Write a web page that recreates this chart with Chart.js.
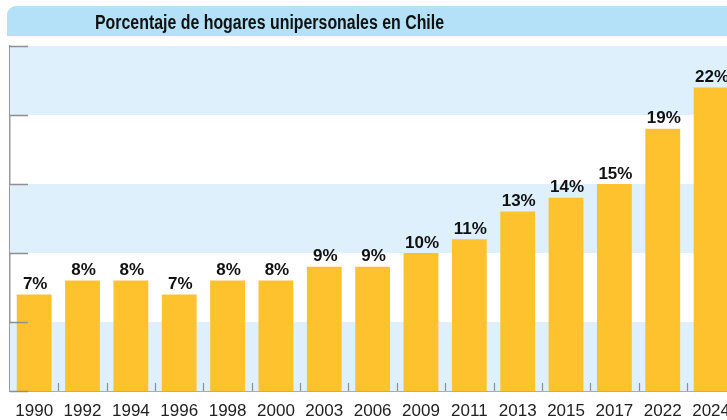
<!DOCTYPE html>
<html><head><meta charset="utf-8">
<script src="https://cdn.jsdelivr.net/npm/chart.js@4.4.1/dist/chart.umd.min.js"></script>
<style>
html,body{margin:0;padding:0;background:#fff;overflow:hidden;width:727px;height:420px;}
#wrap{position:absolute;left:0;top:0;width:740px;height:420px;}
#titlebar{position:absolute;left:7px;top:6px;width:760px;height:30px;background:#b4e1f7;border-radius:9px 0 0 0;z-index:2;}
#title{position:absolute;left:88px;top:1px;height:30px;line-height:30px;font-family:"Liberation Sans",Arial,sans-serif;font-weight:bold;font-size:20px;color:#111;white-space:nowrap;transform:scaleX(0.795);transform-origin:0 50%;}
</style></head>
<body>
<div id="titlebar"><div id="title">Porcentaje de hogares unipersonales en Chile</div></div>
<div id="wrap"><canvas id="c" width="740" height="420"></canvas></div>
<script>
const categories = ['1990','1992','1994','1996','1998','2000','2003','2006','2009','2011','2013','2015','2017','2022','2024'];
const values = [7,8,8,7,8,8,9,9,10,11,13,14,15,19,22];
const yTickValues = [0,5,10,15,20,25];

const bandColor = '#ddf0fb';
const barColor = '#fec22f';

const decor = {
  id:'decor',
  beforeDatasetsDraw(chart){
    const {ctx, chartArea:a, scales:{y}} = chart;
    ctx.save();
    for(let i=0;i<yTickValues.length-1;i++){
      if(i%2===0){
        const y1 = y.getPixelForValue(yTickValues[i]);
        const y2 = y.getPixelForValue(yTickValues[i+1]);
        ctx.fillStyle = bandColor;
        ctx.fillRect(a.left, y2, chart.width - a.left, y1 - y2);
      }
    }
    ctx.restore();
  },
  afterDraw(chart){
    const {ctx, chartArea:a, scales:{x,y}} = chart;
    ctx.save();
    ctx.strokeStyle = '#8f8f8f';
    ctx.lineWidth = 1.5;
    yTickValues.forEach(v=>{
      const py = Math.round(y.getPixelForValue(v))+0.5;
      ctx.beginPath(); ctx.moveTo(a.left, py); ctx.lineTo(a.left+18, py); ctx.stroke();
    });
    ctx.strokeStyle = '#8f8f8f';
    ctx.lineWidth = 1.2;
    for(let i=0;i<categories.length-1;i++){
      const px = Math.round((x.getPixelForValue(i)+x.getPixelForValue(i+1))/2)+0.5;
      ctx.beginPath(); ctx.moveTo(px, a.bottom); ctx.lineTo(px, a.bottom-8); ctx.stroke();
    }
    const meta = chart.getDatasetMeta(0);
    ctx.fillStyle = '#111';
    ctx.font = 'bold 17px "Liberation Sans", Arial, sans-serif';
    ctx.textAlign = 'center';
    ctx.textBaseline = 'alphabetic';
    meta.data.forEach((bar,i)=>{
      ctx.fillText(values[i]+'%', bar.x+1, bar.y-5.5);
    });
    ctx.restore();
  }
};

new Chart(document.getElementById('c'), {
  type:'bar',
  data:{labels:categories, datasets:[{data:values, backgroundColor:barColor, borderWidth:0, barPercentage:0.72, categoryPercentage:1.0}]},
  options:{
    responsive:false, animation:false,
    layout:{padding:{top:46,left:0,right:0,bottom:0}},
    plugins:{legend:{display:false}, tooltip:{enabled:false}, title:{display:false}},
    scales:{
      x:{
        grid:{display:false, drawTicks:false},
        border:{display:true, color:'#acacac', width:2},
        ticks:{color:'#222', font:{family:'"Liberation Sans", Arial, sans-serif', size:17}, padding:10, maxRotation:0, autoSkip:false},
        afterFit(s){ s.height = 29; }
      },
      y:{
        min:0, max:25,
        afterBuildTicks(s){ s.ticks = yTickValues.map(v=>({value:v})); },
        ticks:{display:false},
        grid:{display:false, drawTicks:false},
        border:{display:true, color:'#9a9a9a', width:1.5},
        afterFit(s){ s.width = 10; }
      }
    }
  },
  plugins:[decor]
});
</script>
</body></html>
